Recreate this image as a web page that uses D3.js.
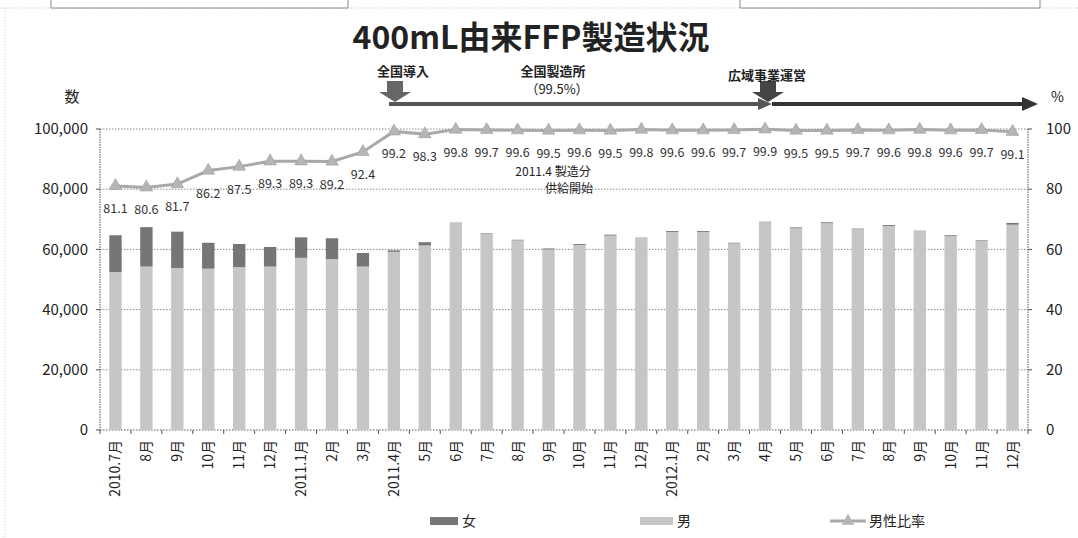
<!DOCTYPE html>
<html>
<head>
<meta charset="utf-8">
<script src="https://cdn.jsdelivr.net/npm/d3@7"></script>
<style>
  body { margin: 0; background: #fff; }
  text { font-family: "Noto Sans CJK JP", "Noto Sans", sans-serif; fill: #222; }
</style>
</head>
<body>
<script>
// months on the x axis (duplicates, so the scale uses the index)
var months = ["2010.7月","8月","9月","10月","11月","12月","2011.1月","2月","3月",
  "2011.4月","5月","6月","7月","8月","9月","10月","11月","12月",
  "2012.1月","2月","3月","4月","5月","6月","7月","8月","9月","10月","11月","12月"];
// 男 (male) counts
var male = [52450,54300,53800,53600,54100,54300,57200,56800,54300,
  59200,61300,68800,65100,63000,60000,61500,64600,63800,
  65800,65800,62000,69100,67000,68700,66700,67800,66100,64400,62800,68200];
// 女 (female) counts
var female = [12250,13100,12100,8600,7700,6500,6800,6900,4500,
  500,1100,100,200,200,300,300,300,100,
  300,300,200,100,300,300,200,300,100,300,200,600];
// 男性比率 (%)
var ratio = [81.1,80.6,81.7,86.2,87.5,89.3,89.3,89.2,92.4,
  99.2,98.3,99.8,99.7,99.6,99.5,99.6,99.5,99.8,
  99.6,99.6,99.7,99.9,99.5,99.5,99.7,99.6,99.8,99.6,99.7,99.1];
var leftTicks = [0,20000,40000,60000,80000,100000];
var rightTicks = [0,20,40,60,80,100];

var W = 1078, H = 538;
var x0 = 100, x1 = 1028, yTop = 129, yBot = 430;

var svg = d3.select("body").append("svg")
  .attr("width", W)
  .attr("height", H);

var idx = d3.range(months.length);
var xScale = d3.scaleBand().domain(idx).range([x0, x1]).paddingInner(0.6).paddingOuter(0.3);
var yScale = d3.scaleLinear().domain([0, 100000]).range([yBot, yTop]);
var y2Scale = d3.scaleLinear().domain([0, 100]).range([yBot, yTop]);
var step = xScale.step();
var cx = function(i) { return xScale(i) + xScale.bandwidth() / 2; };

// outer frame bits at the top (clipped boxes of the slide)
svg.append("line").attr("x1", 0).attr("x2", W).attr("y1", 8).attr("y2", 8)
  .attr("stroke", "#bbb").attr("stroke-dasharray", "1,2");
svg.append("line").attr("x1", 5).attr("x2", 5).attr("y1", 8).attr("y2", H)
  .attr("stroke", "#ccc").attr("stroke-dasharray", "1,2");
[[51, 348], [740, 1040]].forEach(function(b) {
  svg.append("path")
    .attr("d", "M" + b[0] + ",0V8H" + b[1] + "V0")
    .attr("fill", "#fff").attr("stroke", "#888").attr("stroke-width", 1);
});

// title
svg.append("text")
  .attr("x", 531).attr("y", 49)
  .attr("text-anchor", "middle")
  .style("font-size", "32px").style("font-weight", "bold")
  .text("400mL由来FFP製造状況");

// gridlines
svg.selectAll(".grid").data(leftTicks).enter().append("line")
  .attr("class", "grid")
  .attr("x1", x0).attr("x2", x1)
  .attr("y1", function(d) { return yScale(d); })
  .attr("y2", function(d) { return yScale(d); })
  .attr("stroke", function(d) { return d === 0 ? "#555" : "#888"; })
  .attr("stroke-dasharray", "1.5,1.5");

// axes lines
[x0, x1].forEach(function(xx) {
  svg.append("line").attr("x1", xx).attr("x2", xx).attr("y1", yTop).attr("y2", yBot)
    .attr("stroke", "#555").attr("stroke-dasharray", "1.5,1");
});

// left y axis labels + ticks
svg.selectAll(".ly").data(leftTicks).enter().append("text")
  .attr("class", "ly")
  .attr("x", 88)
  .attr("y", function(d) { return yScale(d); })
  .attr("dy", "0.35em")
  .attr("text-anchor", "end")
  .style("font-size", "15px")
  .text(d3.format(","));
svg.selectAll(".lt").data(leftTicks).enter().append("line")
  .attr("x1", x0 - 4).attr("x2", x0)
  .attr("y1", function(d) { return yScale(d); })
  .attr("y2", function(d) { return yScale(d); })
  .attr("stroke", "#555");

// right y axis
svg.selectAll(".ry").data(rightTicks).enter().append("text")
  .attr("class", "ry")
  .attr("x", 1046)
  .attr("y", function(d) { return y2Scale(d); })
  .attr("dy", "0.35em")
  .style("font-size", "15px")
  .text(function(d) { return d; });
svg.selectAll(".rt").data(rightTicks).enter().append("line")
  .attr("x1", x1).attr("x2", x1 + 4)
  .attr("y1", function(d) { return y2Scale(d); })
  .attr("y2", function(d) { return y2Scale(d); })
  .attr("stroke", "#555");

svg.append("text").attr("x", 72).attr("y", 97).attr("dy", "0.35em")
  .attr("text-anchor", "middle").style("font-size", "15px").text("数");
svg.append("text").attr("x", 1051).attr("y", 97).attr("dy", "0.35em")
  .attr("text-anchor", "start").style("font-size", "14px").text("%");

// x ticks at band boundaries
svg.selectAll(".xt").data(d3.range(months.length + 1)).enter().append("line")
  .attr("x1", function(i) { return x0 + i * step; })
  .attr("x2", function(i) { return x0 + i * step; })
  .attr("y1", yBot).attr("y2", yBot + 4)
  .attr("stroke", "#555");

// x labels
svg.selectAll(".xl").data(idx).enter().append("text")
  .attr("class", "xl")
  .attr("transform", function(i) { return "translate(" + (cx(i) + 5) + "," + (yBot + 10) + ") rotate(-90)"; })
  .attr("text-anchor", "end")
  .style("font-size", "14px")
  .text(function(i) { return months[i]; });

// stacked bars
svg.selectAll(".male").data(idx).enter().append("rect")
  .attr("class", "male")
  .attr("x", function(i) { return xScale(i); })
  .attr("width", xScale.bandwidth())
  .attr("y", function(i) { return yScale(male[i]); })
  .attr("height", function(i) { return yBot - yScale(male[i]); })
  .attr("fill", "#c6c6c6");
svg.selectAll(".female").data(idx).enter().append("rect")
  .attr("class", "female")
  .attr("x", function(i) { return xScale(i); })
  .attr("width", xScale.bandwidth())
  .attr("y", function(i) { return yScale(male[i] + female[i]); })
  .attr("height", function(i) { return yScale(male[i]) - yScale(male[i] + female[i]); })
  .attr("fill", "#767676");

// ratio line
var line = d3.line()
  .x(function(i) { return cx(i); })
  .y(function(i) { return y2Scale(ratio[i]); });
svg.append("path").datum(idx)
  .attr("d", line)
  .attr("fill", "none")
  .attr("stroke", "#a9a9a9")
  .attr("stroke-width", 3);
var tri = d3.symbol().type(d3.symbolTriangle).size(70);
svg.selectAll(".mk").data(idx).enter().append("path")
  .attr("transform", function(i) { return "translate(" + cx(i) + "," + y2Scale(ratio[i]) + ")"; })
  .attr("d", tri)
  .attr("fill", "#b5b5b5")
  .attr("stroke", "#999")
  .attr("stroke-width", 0.5);
svg.selectAll(".rl").data(idx).enter().append("text")
  .attr("x", function(i) { return cx(i); })
  .attr("y", function(i) { return y2Scale(ratio[i]) + 27; })
  .attr("text-anchor", "middle")
  .style("font-size", "12.5px")
  .style("fill", "#333")
  .text(function(i) { return ratio[i].toFixed(1); });

// annotations: arrows on top
var arrowY = 104;
svg.append("line").attr("x1", 389).attr("x2", 760).attr("y1", arrowY).attr("y2", arrowY)
  .attr("stroke", "#555").attr("stroke-width", 4);
svg.append("path").attr("d", "M758," + (arrowY - 6) + "L772," + arrowY + "L758," + (arrowY + 6) + "Z")
  .attr("fill", "#555");
svg.append("line").attr("x1", 772).attr("x2", 1024).attr("y1", arrowY).attr("y2", arrowY)
  .attr("stroke", "#333").attr("stroke-width", 4);
svg.append("path").attr("d", "M1022," + (arrowY - 7) + "L1038," + arrowY + "L1022," + (arrowY + 7) + "Z")
  .attr("fill", "#333");

function downArrow(xc, yt, yb, col) {
  svg.append("path")
    .attr("d", "M" + (xc - 8) + "," + yt + "H" + (xc + 8) + "V" + (yb - 10) +
      "H" + (xc + 16) + "L" + xc + "," + yb + "L" + (xc - 16) + "," + (yb - 10) +
      "H" + (xc - 8) + "Z")
    .attr("fill", col);
}
downArrow(395, 81, 102, "#666");
downArrow(768, 81, 102, "#444");

svg.append("text").attr("x", 403).attr("y", 76).attr("text-anchor", "middle")
  .style("font-size", "13px").style("font-weight", "bold").text("全国導入");
svg.append("text").attr("x", 553).attr("y", 76).attr("text-anchor", "middle")
  .style("font-size", "13px").style("font-weight", "bold").text("全国製造所");
svg.append("text").attr("x", 557).attr("y", 94).attr("text-anchor", "middle")
  .style("font-size", "13px").text("（99.5%）");
svg.append("text").attr("x", 767).attr("y", 80).attr("text-anchor", "middle")
  .style("font-size", "13px").style("font-weight", "bold").text("広域事業運営");
svg.append("text").attr("x", 553).attr("y", 176).attr("text-anchor", "middle")
  .style("font-size", "12px").text("2011.4 製造分");
svg.append("text").attr("x", 569).attr("y", 193).attr("text-anchor", "middle")
  .style("font-size", "12px").text("供給開始");

// legend
var ly = 521;
svg.append("rect").attr("x", 430).attr("y", ly - 4).attr("width", 28).attr("height", 8).attr("fill", "#767676");
svg.append("text").attr("x", 462).attr("y", ly).attr("dy", "0.35em").style("font-size", "14px").text("女");
svg.append("rect").attr("x", 640).attr("y", ly - 4).attr("width", 33).attr("height", 8).attr("fill", "#c6c6c6");
svg.append("text").attr("x", 677).attr("y", ly).attr("dy", "0.35em").style("font-size", "14px").text("男");
svg.append("line").attr("x1", 830).attr("x2", 866).attr("y1", ly).attr("y2", ly)
  .attr("stroke", "#a9a9a9").attr("stroke-width", 3);
svg.append("path").attr("transform", "translate(848," + ly + ")").attr("d", tri).attr("fill", "#b5b5b5");
svg.append("text").attr("x", 869).attr("y", ly).attr("dy", "0.35em").style("font-size", "14px").text("男性比率");
</script>
</body>
</html>
